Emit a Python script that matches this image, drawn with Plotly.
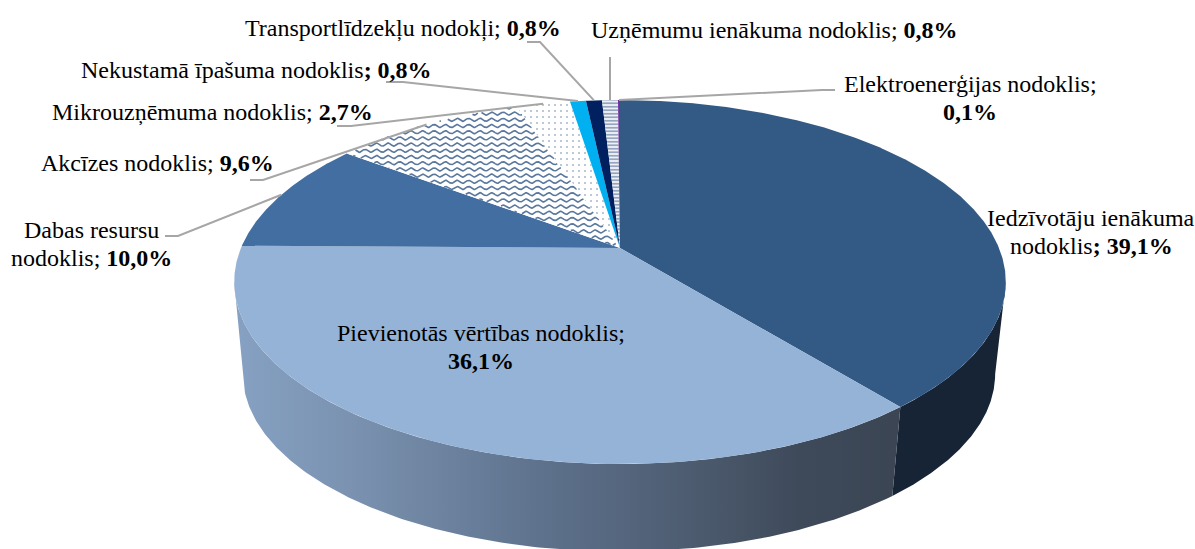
import numpy as np
import plotly.graph_objects as go

categories = ["Iedzīvotāju ienākuma nodoklis", "Pievienotās vērtības nodoklis", "Dabas resursu nodoklis",
              "Akcīzes nodoklis", "Mikrouzņēmuma nodoklis", "Nekustamā īpašuma nodoklis",
              "Transportlīdzekļu nodokļi", "Uzņēmumu ienākuma nodoklis", "Elektroenerģijas nodoklis"]
values = [39.1, 36.1, 10.0, 9.6, 2.7, 0.8, 0.8, 0.8, 0.1]
colors = ["#335a85", "#95b3d7", "#426ea1", "#ffffff", "#ffffff", "#00b0f0", "#002060", "#ffffff", "#7030a0"]

# pixel-like axes
W, H = 1195, 549
CX, CY, A, B, K = 620.0, 282.0, 379.0, 182.0, 0.187
C = K * B
LOW_S, LOW_CX, LOW_CY = 0.975, 619.0, 374.0
FONT = "Liberation Serif"
FS = 24
LINE = 28
GREY = "#a6a6a6"

def rim(frac):
    th = 2 * np.pi * np.asarray(frac, dtype=float)
    u, v = np.sin(th), np.cos(th)
    d = 1 + K * v
    return CX + A * u / d, CY - (B * v + C) / d

def lower(frac):
    x, y = rim(frac)
    return LOW_CX + LOW_S * (x - CX), LOW_CY + LOW_S * (y - CY)

total = sum(values)
edges = np.concatenate([[0], np.cumsum(values)]) / total
apex = (CX, CY - C)
fig = go.Figure()

def in_poly(px, py, qx, qy):
    inside = np.zeros(px.shape, bool)
    n = len(qx)
    for i in range(n):
        j = (i - 1) % n
        c = ((qy[i] > py) != (qy[j] > py)) & (px < (qx[j] - qx[i]) * (py - qy[i]) / (qy[j] - qy[i] + 1e-12) + qx[i])
        inside ^= c
    return inside

# side wall
fine = np.linspace(0, 1, 1441)
rx, ry = rim(fine)
f_right = fine[np.argmax(rx[:800])]
f_left = fine[700 + np.argmin(rx[700:])]

def wall(f0, f1, **kw):
    f = np.linspace(f0, f1, 200)
    ux, uy = rim(f)
    lx, ly = lower(f)
    fig.add_trace(go.Scatter(x=np.r_[ux, lx[::-1]], y=np.r_[uy, ly[::-1]], mode="lines", fill="toself",
                             line=dict(width=0), hoverinfo="skip", showlegend=False, **kw))

wall(f_right, edges[1], fillcolor="#172436")
wall(edges[1], f_left, fillgradient=dict(type="horizontal", start=234, stop=900,
     colorscale=[[0, "#86a1c3"], [0.17, "#7b93b1"], [0.45, "#5f738e"], [0.58, "#55667e"],
                 [0.72, "#4a586b"], [0.85, "#3e4a5a"], [1, "#3b4554"]]))

# top face
for i, cat in enumerate(categories):
    f = np.linspace(edges[i], edges[i + 1], max(6, int(values[i] * 12)))
    ex, ey = rim(f)
    xs = np.r_[apex[0], ex, apex[0]]
    ys = np.r_[apex[1], ey, apex[1]]
    kw = dict(fillcolor=colors[i])
    if cat.startswith("Mikro"):
        kw = dict(fillcolor="#ffffff", fillpattern=dict(shape=".", size=6, solidity=0.1, fgcolor="#55759c", bgcolor="#ffffff"))
    if cat.startswith("Uzņēmumu"):
        kw = dict(fillcolor="#ffffff", fillpattern=dict(shape="-", size=3.5, solidity=0.5, fgcolor="#3c5a8a", bgcolor="#eef1f6"))
    fig.add_trace(go.Scatter(x=xs, y=ys, mode="lines", fill="toself", line=dict(width=0),
                             hoverinfo="skip", showlegend=False, **kw))
    if cat.startswith("Akcīzes"):
        wx, wy = [], []
        for y0 in np.arange(95, 260, 6.2):
            gx = np.arange(300, 640, 0.75)
            gy = y0 + 1.5 * np.sin(2 * np.pi * gx / 11.5)
            m = in_poly(gx, gy, xs, ys)
            wx += list(np.where(m, gx, np.nan)) + [np.nan]
            wy += list(np.where(m, gy, np.nan)) + [np.nan]
        fig.add_trace(go.Scatter(x=wx, y=wy, mode="lines", line=dict(width=1.6, color="#5a789e"),
                                 hoverinfo="skip", showlegend=False, connectgaps=False))

# leader lines: label elbow -> slice mid-point on the rim
leaders = {"Dabas": [(165, 236), (178, 236)], "Akcīzes": [(250, 180), (263, 180)], "Mikro": [(337, 126), (351, 126)],
           "Nekustamā": [(386, 82), (403, 82)], "Transport": [(527, 42), (540, 42)], "Uzņēmumu": [(610, 57)],
           "Elektro": [(835, 90), (822, 90)]}
for i, cat in enumerate(categories):
    for key, pts in leaders.items():
        if cat.startswith(key):
            mx, my = rim((edges[i] + edges[i + 1]) / 2)
            fig.add_trace(go.Scatter(x=[p[0] for p in pts] + [float(mx)], y=[p[1] for p in pts] + [float(my)],
                                     mode="lines", line=dict(width=2, color=GREY),
                                     hoverinfo="skip", showlegend=False))

def pct(v):
    return f"{v:.1f}".replace(".", ",") + "%"

labels = [
    (1091, 218, "Iedzīvotāju ienākuma", "nodoklis<b>; {}</b>"),
    (481, 333, "Pievienotās vērtības nodoklis;", "<b>{}</b>"),
    (91, 230, "Dabas resursu", "nodoklis; <b>{}</b>"),
    (157, 163, "Akcīzes nodoklis; <b>{}</b>"),
    (212, 112, "Mikrouzņēmuma nodoklis; <b>{}</b>"),
    (256, 70, "Nekustamā īpašuma nodoklis<b>; {}</b>"),
    (403, 28, "Transportlīdzekļu nodokļi; <b>{}</b>"),
    (774, 30, "Uzņēmumu ienākuma nodoklis; <b>{}</b>"),
    (970, 84, "Elektroenerģijas nodoklis;", "<b>{}</b>"),
]
annotations = []
for (x, y, *lines), v in zip(labels, values):
    for k, t in enumerate(lines):
        annotations.append(dict(x=x, y=y + k * LINE, text=t.format(pct(v)), showarrow=False, xanchor="center",
                                yanchor="middle", align="center",
                                font=dict(family=FONT, size=FS, color="#000000")))

fig.update_layout(width=W, height=H, margin=dict(l=0, r=0, t=0, b=0), autosize=False,
                  paper_bgcolor="#ffffff", plot_bgcolor="#ffffff", annotations=annotations, showlegend=False,
                  xaxis=dict(range=[0, W], visible=False, fixedrange=True),
                  yaxis=dict(range=[H, 0], visible=False, fixedrange=True))
fig.write_html("out.html", config={"displayModeBar": False},
               post_script="document.body.style.margin='0';document.body.style.overflow='hidden';")
